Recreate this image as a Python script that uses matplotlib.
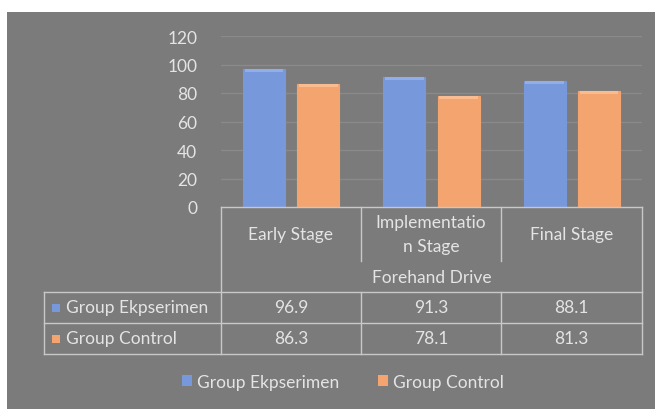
"""Forehand drive scores, grouped bars with data table underneath."""

import matplotlib
matplotlib.use("Agg")
import matplotlib.pyplot as plt
from matplotlib.lines import Line2D
from matplotlib.patches import Rectangle, Patch
import numpy as np

# data
stages = ["Early Stage", "Implementatio\nn Stage", "Final Stage"]
group_title = "Forehand Drive"
series_names = ["Group Ekpserimen", "Group Control"]
experiment = [96.9, 91.3, 88.1]
control = [86.3, 78.1, 81.3]
yticks = [0, 20, 40, 60, 80, 100, 120]

W, H = 655, 410
BG = "#7b7b7b"
TXT = "#e4e4e4"
GRID = "#8a8a8a"
LINE = "#c8c8c8"
BLUE = "#7898dc"
ORANGE = "#f4a46e"
BLUE_HI = "#92aee8"
ORANGE_HI = "#f9bb90"
FS = 12.5

plt.rcParams["font.family"] = ["Lato", "DejaVu Sans"]


def fx(px):
    return px / W


def fy(py):
    return 1 - py / H


fig = plt.figure(figsize=(W / 100, H / 100), dpi=100)
fig.patch.set_facecolor("white")
fig.add_artist(Rectangle((fx(7), 0), 1 - fx(7), fy(13), transform=fig.transFigure,
                         facecolor=BG, edgecolor="none", zorder=0))

# plot area, 0 at y=208, 120 at y=37
x0, x1 = 221, 642
ax = fig.add_axes([fx(x0), fy(208), fx(x1) - fx(x0), fy(37) - fy(208)])
ax.set_facecolor("none")
ax.set_xlim(0, 3)
ax.set_ylim(0, 120)

x = np.arange(len(stages)) + 0.5
w = 0.3
off = 0.193
for vals, sign, col, hi in [(experiment, -1, BLUE, BLUE_HI), (control, 1, ORANGE, ORANGE_HI)]:
    ax.bar(x + sign * off, vals, width=w, color=col, edgecolor=col, linewidth=0.8, zorder=3)
    ax.bar(x + sign * off, [2.0] * len(vals), bottom=np.array(vals) - 2.0, width=w * 0.92,
           color=hi, linewidth=0, zorder=4)

ax.set_yticks(yticks)
ax.yaxis.grid(True, color=GRID, linewidth=1)
ax.set_axisbelow(True)
ax.tick_params(axis="y", length=0, pad=17, labelsize=FS, labelcolor=TXT)
ax.set_xticks([])
for s in ax.spines.values():
    s.set_visible(False)


def hline(px_a, px_b, py):
    fig.add_artist(Line2D([fx(px_a), fx(px_b)], [fy(py), fy(py)], transform=fig.transFigure,
                          color=LINE, linewidth=1, zorder=5))


def vline(px, py_a, py_b):
    fig.add_artist(Line2D([fx(px), fx(px)], [fy(py_a), fy(py_b)], transform=fig.transFigure,
                          color=LINE, linewidth=1, zorder=5))


# table grid
cols = [221, 361, 501, 642]
hline(221, 642, 208)
hline(44, 642, 293)
hline(44, 642, 324)
hline(44, 642, 355)
vline(221, 208, 355)
vline(642, 208, 355)
vline(44, 293, 355)
for c in cols[1:-1]:
    vline(c, 208, 262)
    vline(c, 293, 355)

# header text
for i, name in enumerate(stages):
    cx = (cols[i] + cols[i + 1]) / 2
    fig.text(fx(cx), fy(235), name, ha="center", va="center", color=TXT, fontsize=FS,
             linespacing=1.55)
fig.text(fx((cols[0] + cols[-1]) / 2), fy(278), group_title, ha="center", va="center",
         color=TXT, fontsize=FS)

# data rows
rows_y = [308.5, 339.5]
for r, (name, vals, col) in enumerate(zip(series_names, [experiment, control], [BLUE, ORANGE])):
    fig.add_artist(Rectangle((fx(52), fy(rows_y[r] + 4)), fx(8), 8 / H, transform=fig.transFigure,
                             facecolor=col, edgecolor="none", zorder=5))
    fig.text(fx(66), fy(rows_y[r]), name, ha="left", va="center", color=TXT, fontsize=FS)
    for i, v in enumerate(vals):
        cx = (cols[i] + cols[i + 1]) / 2
        fig.text(fx(cx), fy(rows_y[r]), f"{v:.1f}", ha="center", va="center", color=TXT,
                 fontsize=FS)

# legend
handles = [Patch(facecolor=BLUE, edgecolor="none"), Patch(facecolor=ORANGE, edgecolor="none")]
fig.legend(handles, series_names, loc="center", bbox_to_anchor=(fx(343), fy(383)), ncol=2,
           frameon=False, fontsize=FS, labelcolor=TXT, handlelength=0.6, handleheight=0.6,
           handletextpad=0.3, columnspacing=2.2)

fig.savefig("out.png", dpi=100, facecolor=fig.get_facecolor())
